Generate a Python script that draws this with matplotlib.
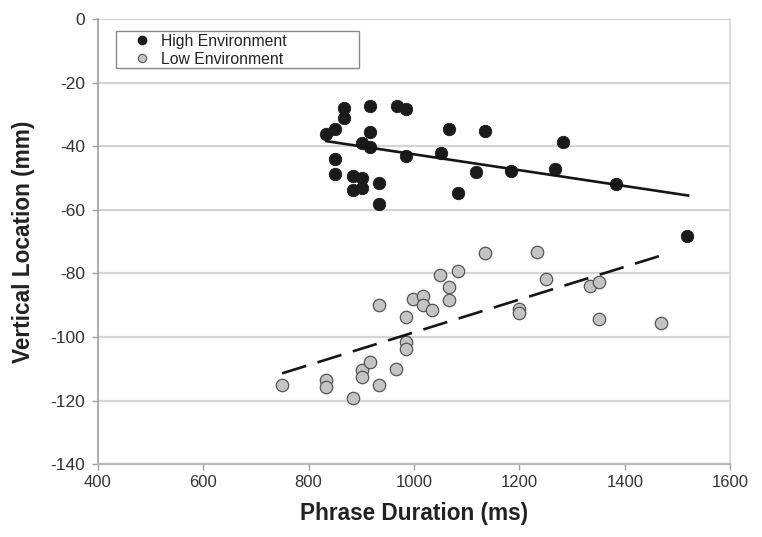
import matplotlib
matplotlib.use("Agg")
import matplotlib.pyplot as plt
from matplotlib.lines import Line2D
from matplotlib.patches import Rectangle

# ---- data ----
high_x = [834, 851, 868, 868, 851, 851, 917, 917, 901, 917, 884, 901, 901, 884,
          934, 934, 967, 984, 984, 1067, 1051, 1134, 1084, 1117, 1184, 1267,
          1283, 1384, 1518]
high_y = [-36.2, -34.6, -28.1, -31.2, -44.1, -48.7, -27.3, -35.4, -39.1, -40.1,
          -49.4, -50.1, -53.0, -53.8, -51.5, -58.2, -27.4, -28.3, -43.1, -34.6,
          -42.0, -35.1, -54.8, -48.2, -47.7, -47.2, -38.7, -51.9, -68.2]

low_x = [750, 834, 834, 885, 901, 901, 917, 934, 934, 966, 984, 984, 984, 999,
         1017, 1017, 1034, 1050, 1067, 1067, 1084, 1134, 1200, 1200, 1234, 1251,
         1334, 1351, 1351, 1468]
low_y = [-115.1, -113.5, -115.8, -119.2, -110.3, -112.6, -107.9, -90.0, -115.2,
         -110.1, -93.8, -101.7, -103.8, -87.9, -87.2, -89.9, -91.5, -80.4, -84.2,
         -88.3, -79.2, -73.7, -91.2, -92.5, -73.2, -81.8, -83.8, -82.8, -94.2,
         -95.5]

high_trend_x = [834, 1520]
high_trend_y = [-38.4, -55.5]
low_trend_x = [750, 1468]
low_trend_y = [-111.4, -74.4]

x_ticks = [400, 600, 800, 1000, 1200, 1400, 1600]
y_ticks = [0, -20, -40, -60, -80, -100, -120, -140]

series_labels = ["High Environment", "Low Environment"]
x_label = "Phrase Duration (ms)"
y_label = "Vertical Location (mm)"

# ---- figure ----
plt.rcParams['font.family'] = ['Liberation Sans', 'DejaVu Sans']
plt.rcParams['axes.unicode_minus'] = False
fig = plt.figure(figsize=(7.62, 5.37), dpi=100)
ax = fig.add_axes([0.1282, 0.1354, 0.8302, 0.8292])

grid_c = '#d4d4d4'
ax.set_xlim(400, 1600)
ax.set_ylim(-140, 0)
ax.set_xticks(x_ticks)
ax.set_yticks(y_ticks)
ax.yaxis.grid(True, color=grid_c, lw=1.6, zorder=0)
ax.set_axisbelow(True)
ax.spines['top'].set_visible(False)
ax.spines['right'].set_color(grid_c)
ax.spines['right'].set_linewidth(1.2)
ax.spines['left'].set_color('#a0a0a0')
ax.spines['bottom'].set_color('#b8b8b8')
ax.spines['left'].set_linewidth(1.2)
ax.spines['bottom'].set_linewidth(1.6)
ax.tick_params(axis='both', colors='#a0a0a0', labelcolor='#333333',
               labelsize=12, length=4, width=1)
ax.tick_params(axis='x', pad=4)
ax.tick_params(axis='y', labelsize=12.5, pad=5)

ax.scatter(high_x, high_y, s=80, color='#1a1a1a', edgecolor='#1a1a1a',
           linewidth=0.6, zorder=3)
ax.scatter(low_x, low_y, s=80, color='#c4c4c4', edgecolor='#555555',
           linewidth=0.9, zorder=3)
ax.plot(high_trend_x, high_trend_y, color='#151515', lw=1.9, zorder=4)
ax.plot(low_trend_x, low_trend_y, color='#151515', lw=1.9,
        dashes=(9.5, 4.5), zorder=4)

label_font = dict(weight='bold', size=16.3, color='#222222')
ax.set_xlabel(x_label, labelpad=8, **label_font)
ax.set_ylabel(y_label, labelpad=11, **label_font)

# legend frame
ax.add_patch(Rectangle((0.0289, 0.890), 0.384, 0.083, transform=ax.transAxes,
                       facecolor='white', edgecolor='#8a8a8a', lw=1.0,
                       zorder=5))
handles = [
    Line2D([], [], ls='none', marker='o', ms=6, mfc='#1a1a1a', mec='#1a1a1a'),
    Line2D([], [], ls='none', marker='o', ms=6, mfc='#c4c4c4', mec='#555555',
           mew=0.8),
]
leg = ax.legend(handles, series_labels, loc='upper left',
                bbox_to_anchor=(0.0463, 0.972), borderaxespad=0,
                fontsize=11.3, frameon=False,
                handletextpad=0.42, handlelength=1.6, borderpad=0.15,
                labelspacing=0.2)
leg.set_zorder(6)
for t in leg.get_texts():
    t.set_color('#222222')

fig.savefig('out.png', dpi=100, facecolor='white')
